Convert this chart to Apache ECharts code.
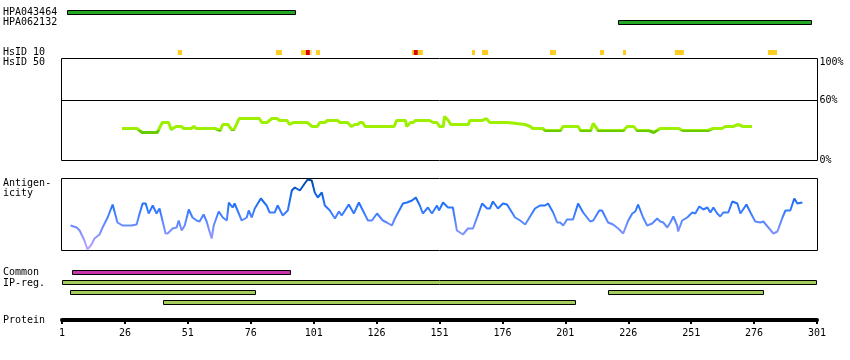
<!DOCTYPE html>
<html>
<head>
<meta charset="utf-8">
<script src="https://cdn.jsdelivr.net/npm/echarts@6/dist/echarts.min.js"></script>
<style>html,body{margin:0;padding:0;background:#fff}#c{width:850px;height:360px}</style>
</head>
<body>
<div id="c"></div>
<script>
// ---- data ----
const hpaNames = ['HPA043464', 'HPA062132'];
const hpaRanges = [[3, 94, 0], [222, 299, 1]];

// HsID 10 markers: [start residue, end residue, level]
const hsid10Markers = [
  [47, 48.7, 'y'], [86, 88.4, 'y'], [96, 97.9, 'y'], [97.9, 99.5, 'r'], [99.5, 100.3, 'l'],
  [101.9, 103.5, 'y'], [140, 140.8, 'y'], [140.8, 142.4, 'r'], [142.4, 144.4, 'y'],
  [163.9, 165.1, 'y'], [167.9, 170.3, 'y'], [194.9, 197.3, 'y'], [214.8, 216.4, 'y'],
  [223.9, 225.1, 'y'], [244.5, 248.1, 'y'], [281.5, 285.1, 'y']
];

// HsID 50 identity (%) by residue
const hsid50Res = [25,31,31.5,33,39,41,43.5,44.5,46.5,48.5,49.5,52.5,53.5,54.5,62,62.5,64,65,67,68.5,69.5,71.5,79.5,80.5,82.5,84.5,86.5,87.5,90.5,91.5,93,98.5,100.5,102.5,103.5,105.5,106.5,110.5,111.5,114.5,116,117.5,118.5,119.5,120.5,121.5,125.5,126,127.5,133,134,137.5,138,139.5,140.5,141.5,147,148.5,150,151,152.5,153,154.5,155.5,162.5,163,168,169.5,171,178,178.5,185,187,188,192,193,199,200,206,207,211,212,214,224,225.5,228,229.5,234,236,238.5,246,247.5,257.5,259.5,263,264.5,267.5,269.5,271.5,275];
const hsid50Pct = [32,32,30,28,28,38,38,31,34,34,32,32,34,32,32,30,30,36,36,31,31,42,42,38,38,42,42,40,40,36,38,38,34,34,38,38,40,40,38,38,34,36,36,38,38,34,34,36,34,34,40,40,34,38,38,40,40,38,38,34,34,44,40,36,36,40,40,42,38,38,36,36,34,32,32,30,30,34,34,30,30,37,30,30,34,34,30,30,28,32,32,30,30,32,32,34,34,36,34,34];

// Antigenicity profile by residue
const antiRes = [4.6,7,8.2,10.1,11.3,12.9,14.1,16.1,17.3,19.3,21.3,23.2,25.2,28.8,29.2,30.8,32,33.2,34.4,35.6,37.2,38.7,39.9,42.3,43.1,45.1,46.7,47.5,48.7,49.9,51.5,53,54.6,55.8,57.4,58.6,59.4,60.6,61.4,63.4,65,66.6,67.4,68.9,69.7,72.5,74.5,75.3,76.5,77.7,80.1,82.4,83.6,85.6,86.8,88.8,90.8,92.4,93.6,95.6,97.5,98.7,100.3,101.5,102.7,104.3,105.5,107.5,109.5,111.1,112.2,115,117,119,120.6,122.6,124.2,126.2,128.5,130.1,132.1,133.3,136.5,138.1,140.1,141.6,143.2,144.4,146.4,148,150,150.8,152.4,154.4,156.3,157.9,160.3,162.3,164.3,165.9,167.9,169.9,171,172.2,174.2,176.2,177.8,181,183,185,188.9,190.9,192.9,194.1,196.1,197.7,198.9,200.1,201.6,204,206,208,210.8,212,214.4,215.5,217.9,219.9,221.9,223.9,225.9,227.5,228.7,229.8,231.8,233.4,235.4,237.4,238.6,239.8,241.4,242.6,243.8,245.3,245.7,247.3,249.3,251.3,252.5,254.1,255.7,257.3,258.5,259.7,261.2,262.4,263.6,265.6,267.2,269.2,270.4,272.8,274.4,276.3,278.3,279.5,281.5,283.5,285.1,287.1,288.3,290.2,291.8,293,295];
const antiVal = [25,23,20,10,1,6,12,16,23,33,46,28,25,25,27,26,37,47,47,37,45,37,42,17,17,22,23,30,20,25,41,33,30,29,36,29,22,12,25,39,33,30,48,43,47,30,33,40,33,42,52,45,38,38,45,35,40,60,63,60,67,71,70,58,53,58,45,40,32,39,35,46,37,48,40,30,30,37,30,28,25,32,47,48,50,53,45,37,43,37,45,40,48,43,43,20,16,22,22,33,47,42,42,49,42,47,46,33,30,26,42,45,45,47,38,28,28,25,31,31,47,38,29,30,40,40,28,26,22,17,30,37,39,46,33,25,27,32,29,28,23,28,34,25,19,30,33,38,37,44,41,43,38,43,37,34,38,38,49,47,37,46,38,29,28,29,23,17,19,33,40,40,52,47,48];

// Common region and IP regions: [start, end, row]
const commonRanges = [[5, 92, 0]];
const ipRegRanges = [[1, 301, 1], [4, 78, 2], [218, 280, 2], [41, 205, 3]];
const regionRows = ['Common', 'IP1', 'IP2', 'IP3'];

// axis ticks
const proteinMin = 1, proteinMax = 301, proteinStep = 25;
const identityLabels = [0, 60, 100];
const identityThreshold = 31;

// ---- chart ----
const FONT = '"DejaVu Sans Mono", monospace';
const L = 62, W = 755;
const HS_TOP = 58.5, HS_H = 102, HS_MAX = 102;
const AN_TOP = 178.5, AN_H = 72, AN_MAX = 72;
const chart = echarts.init(document.getElementById('c'), null, {renderer: 'canvas'});

function zip(a, b) { return a.map((v, i) => [v, b[i]]); }

function barItem(fillFn, lw, h) {
  return function (params, api) {
    const s = api.coord([api.value(0), api.value(2)]);
    const e = api.coord([api.value(1), api.value(2)]);
    const fill = fillFn(params, api);
    if (lw > 0) {
      return {type: 'rect', shape: {x: Math.round(s[0]) + 0.5, y: Math.round(s[1] - h / 2) + 0.5, width: Math.round(e[0] - s[0]) - 1, height: h - 1},
        style: {fill: fill, stroke: '#000', lineWidth: lw}};
    }
    return {type: 'rect', shape: {x: s[0], y: s[1] - h / 2, width: e[0] - s[0], height: h}, style: {fill: fill}};
  };
}

const hiddenX = (gi) => ({type: 'value', gridIndex: gi, min: proteinMin, max: proteinMax, show: false});
const levelColor = {y: '#ffcc22', r: '#dd0000', l: '#ffdd77'};

// gradients in page space: vertical position maps to value
const thr = identityThreshold / HS_MAX;
const hsGrad = {type: 'linear', global: true, x: 0, y: HS_TOP + HS_H, x2: 0, y2: HS_TOP,
  colorStops: [{offset: 0, color: '#66cc00'}, {offset: thr, color: '#66cc00'}, {offset: thr, color: '#9cf000'}, {offset: 1, color: '#9cf000'}]};
const anGrad = {type: 'linear', global: true, x: 0, y: AN_TOP + AN_H, x2: 0, y2: AN_TOP,
  colorStops: [{offset: 0, color: '#c4a6ff'}, {offset: 0.2, color: '#8c94ff'}, {offset: 0.4, color: '#5a88ff'},
    {offset: 0.6, color: '#2a76ff'}, {offset: 0.8, color: '#0e62e0'}, {offset: 1, color: '#00449a'}]};

const option = {
  animation: false,
  grid: [
    {left: L, width: W, top: 7.5, height: 20},
    {left: L, width: W, top: 47.5, height: 10},
    {left: L - 0.5, width: W + 1, top: HS_TOP, height: HS_H, show: true, borderColor: '#000', borderWidth: 1},
    {left: L - 0.5, width: W + 1, top: AN_TOP, height: AN_H, show: true, borderColor: '#000', borderWidth: 1},
    {left: L, width: W, top: 267.5, height: 40},
    {left: L, width: W, top: 310, height: 10}
  ],
  xAxis: [
    hiddenX(0), hiddenX(1), hiddenX(2), hiddenX(3), hiddenX(4),
    {type: 'value', gridIndex: 5, min: proteinMin, max: proteinMax, interval: proteinStep, position: 'bottom',
      axisLine: {show: true, lineStyle: {color: '#000', width: 4}},
      axisTick: {show: true, length: 4, lineStyle: {color: '#000', width: 2}},
      axisLabel: {show: true, color: '#000', fontFamily: FONT, fontSize: 10, margin: 8},
      splitLine: {show: false}}
  ],
  yAxis: [
    {type: 'category', gridIndex: 0, data: hpaNames, inverse: true, show: false},
    {type: 'category', gridIndex: 1, data: ['HsID10'], show: false},
    {type: 'value', gridIndex: 2, min: 0, max: HS_MAX, position: 'right',
      axisLine: {show: false}, axisTick: {show: false}, splitLine: {show: false},
      axisLabel: {show: true, customValues: identityLabels, color: '#000', fontFamily: FONT, fontSize: 10, margin: 2,
        formatter: (v) => v === 100 ? '{t|' + v + '%}' : v + '%',
        rich: {t: {fontFamily: FONT, fontSize: 10, color: '#000', padding: [4, 0, 0, 0]}}}},
    {type: 'value', gridIndex: 3, min: 0, max: AN_MAX, show: false},
    {type: 'category', gridIndex: 4, data: regionRows, inverse: true, show: false},
    {type: 'value', gridIndex: 5, min: 0, max: 1, show: false}
  ],
  series: [
    {type: 'custom', xAxisIndex: 0, yAxisIndex: 0, data: hpaRanges, encode: {x: [0, 1], y: 2},
      renderItem: barItem(() => '#22a822', 1, 5)},
    {type: 'custom', xAxisIndex: 1, yAxisIndex: 1, data: hsid10Markers.map(m => [m[0], m[1], 0]), encode: {x: [0, 1], y: 2},
      renderItem: barItem((p) => levelColor[hsid10Markers[p.dataIndex][2]], 0, 5)},
    {type: 'line', xAxisIndex: 2, yAxisIndex: 2, data: [[proteinMin, 60], [proteinMax, 60]], showSymbol: false,
      lineStyle: {width: 1, color: '#000'}, itemStyle: {color: '#000'}},
    {type: 'line', xAxisIndex: 2, yAxisIndex: 2, data: zip(hsid50Res, hsid50Pct), showSymbol: false,
      lineStyle: {width: 3, color: hsGrad}, itemStyle: {color: '#9cf000'}},
    {type: 'line', xAxisIndex: 3, yAxisIndex: 3, data: zip(antiRes, antiVal), showSymbol: false,
      lineStyle: {width: 2, color: anGrad}, itemStyle: {color: '#2a76ff'}},
    {type: 'custom', xAxisIndex: 4, yAxisIndex: 4, data: commonRanges.concat(ipRegRanges), encode: {x: [0, 1], y: 2},
      renderItem: barItem((p) => p.dataIndex < commonRanges.length ? '#cc33aa' : '#a2cd5a', 1, 5)}
  ],
  graphic: [
    ['HPA043464', 12.5], ['HPA062132', 22.5], ['HsID 10', 52.5], ['HsID 50', 62.5],
    ['Antigen-', 183.5], ['icity', 193.5], ['Common', 272.5], ['IP-reg.', 283], ['Protein', 320]
  ].map(t => ({type: 'text', x: 3, y: t[1], style: {text: t[0], font: '10px ' + FONT, fill: '#000', verticalAlign: 'middle'}}))
};
chart.setOption(option);
</script>
</body>
</html>
